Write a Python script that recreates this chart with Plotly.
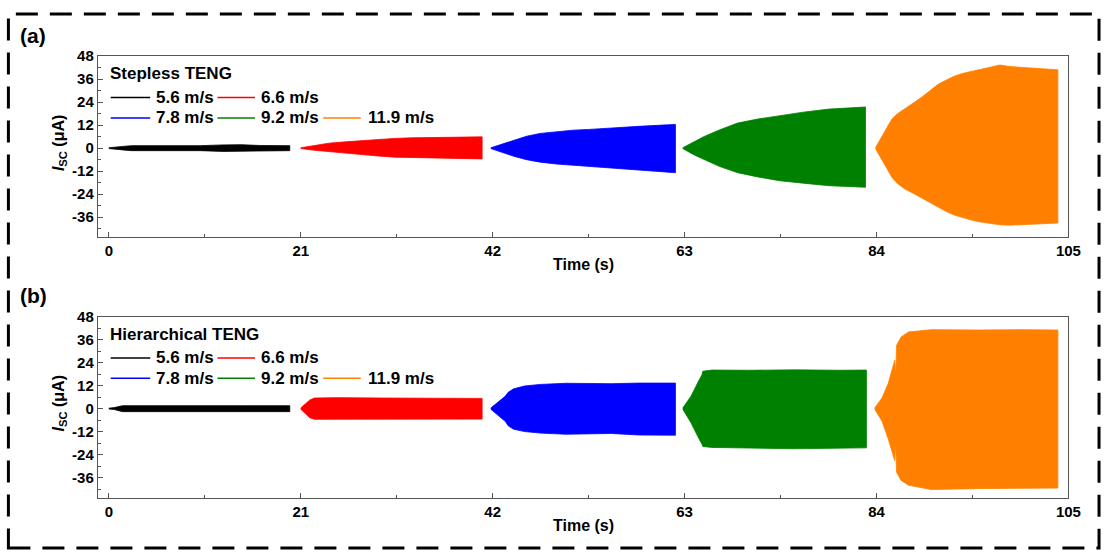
import plotly.graph_objects as go

# ---------------- data (envelopes) ----------------
speeds = ["5.6 m/s", "6.6 m/s", "7.8 m/s", "9.2 m/s", "11.9 m/s"]
colors = ["#000000", "#ff0000", "#0000ff", "#008000", "#ff8000"]
panel_titles = ["Stepless TENG", "Hierarchical TENG"]
panel_labels = ["(a)", "(b)"]

x_tickvals = [0, 21, 42, 63, 84, 105]
x_ticktext = ["0", "21", "42", "63", "84", "105"]
y_tickvals = [-36, -24, -12, 0, 12, 24, 36, 48]
y_ticktext = ["-36", "-24", "-12", "0", "12", "24", "36", "48"]

# Panel (a) - Stepless TENG
a_56_t = [0, 0.8, 1.5, 2.5, 6, 10, 12.5, 14.5, 16.5, 19.8]
a_56_up = [0.2, 0.4, 0.9, 1.3, 1.3, 1.3, 1.7, 1.8, 1.4, 1.3]
a_56_lo = [-0.2, -0.4, -0.9, -1.3, -1.3, -1.3, -1.7, -1.8, -1.4, -1.3]

a_66_t = [21, 22.5, 24.1, 25.9, 27.7, 29.5, 31.3, 33.1, 34.9, 38, 40.85]
a_66_up = [0.2, 1.4, 2.6, 3.3, 3.9, 4.6, 5.1, 5.4, 5.6, 5.8, 5.9]
a_66_lo = [-0.2, -1.1, -2.0, -2.7, -3.4, -4.1, -4.7, -4.9, -5.1, -5.4, -5.6]

a_78_t = [41.8, 42.8, 43.5, 44.3, 45.7, 47.2, 49, 50.8, 52.6, 54.4, 56.2, 58, 60, 62]
a_78_up = [0.2, 1.7, 3.0, 4.3, 6.2, 7.7, 8.7, 9.4, 9.8, 10.2, 10.8, 11.4, 11.9, 12.4]
a_78_lo = [-0.2, -1.7, -3.0, -4.2, -6.0, -7.3, -8.3, -9.0, -9.6, -10.2, -10.8, -11.4, -12.1, -12.8]

a_92_t = [62.8, 63.7, 64.4, 65.1, 66.8, 68.8, 71, 73.4, 76, 78.8, 81, 82.8]
a_92_up = [0.2, 2.6, 4.3, 6, 9.5, 13.1, 15.2, 17, 18.8, 20.4, 21.0, 21.5]
a_92_lo = [-0.2, -2.6, -4.3, -6, -9.5, -12.8, -15, -17, -18.3, -19.6, -20.0, -20.4]

a_119_t = [83.9, 84.6, 85.2, 85.7, 86.3, 87.1, 88.0, 88.9, 89.8, 90.7, 91.6, 92.5, 93.4,
           94.3, 95.2, 96.1, 97.5, 98.6, 99.7, 100.8, 101.9, 103.85]
a_119_up = [0.3, 6, 11, 15.3, 18, 20.4, 23.5, 26.4, 30, 33.2, 35.5, 37.5, 39,
            40, 41, 41.7, 43.4, 42.6, 42.2, 42.0, 41.7, 40.9]
a_119_lo = [-0.3, -6, -11, -15.3, -18.5, -21.3, -23.5, -25.5, -28, -30.6, -33, -34.9, -36.3,
            -37.4, -38.4, -39.1, -40, -40.2, -40, -39.8, -39.5, -39.1]

# Panel (b) - Hierarchical TENG
b_56_t = [0, 0.6, 1.5, 5, 10, 15, 19.8]
b_56_up = [0.2, 0.5, 1.5, 1.6, 1.5, 1.5, 1.5]
b_56_lo = [-0.2, -0.5, -1.6, -1.7, -1.6, -1.6, -1.6]

b_66_t = [21, 21.5, 22.0, 22.5, 25, 30, 35, 40.85]
b_66_up = [0.3, 2.5, 4.5, 5.5, 5.7, 5.5, 5.4, 5.3]
b_66_lo = [-0.3, -2.5, -4.8, -5.6, -5.8, -5.7, -5.6, -5.5]

b_78_t = [41.8, 42.6, 43.4, 43.7, 44.3, 45.5, 47.2, 50, 55, 58, 62]
b_78_up = [0.3, 3.5, 6.5, 8.5, 10.3, 11.8, 12.6, 13.2, 13.0, 13.3, 13.3]
b_78_lo = [-0.3, -3.5, -6.8, -9.0, -10.8, -12.0, -12.8, -13.4, -13.0, -13.8, -13.9]

b_92_t = [62.8, 63.7, 64.6, 64.9, 65.0, 66, 70, 75, 80, 82.9]
b_92_up = [0.3, 6.4, 15, 17.5, 19.5, 20.1, 20.0, 20.2, 20.0, 20.1]
b_92_lo = [-0.3, -7.4, -16, -18.5, -19.8, -20.3, -20.6, -21.0, -20.6, -20.5]

b_119_t = [83.8, 84.6, 85.3, 86.0, 86.1, 86.2, 86.7, 87.5, 90, 95, 100, 103.85]
b_119_up = [0.3, 5.5, 13.3, 25.3, 16, 33, 37.4, 40, 41.2, 41.0, 41.2, 41.0]
b_119_lo = [-0.3, -6.5, -16, -27.2, -17, -33.2, -37.5, -40, -42.3, -41.8, -41.5, -41.5]

panel_a = [(a_56_t, a_56_up, a_56_lo), (a_66_t, a_66_up, a_66_lo), (a_78_t, a_78_up, a_78_lo),
           (a_92_t, a_92_up, a_92_lo), (a_119_t, a_119_up, a_119_lo)]
panel_b = [(b_56_t, b_56_up, b_56_lo), (b_66_t, b_66_up, b_66_lo), (b_78_t, b_78_up, b_78_lo),
           (b_92_t, b_92_up, b_92_lo), (b_119_t, b_119_up, b_119_lo)]

# ---------------- layout helpers ----------------
W, H = 1115, 554
FONT = "Arial, 'Liberation Sans', Helvetica, sans-serif"
AXC = "#555555"


def px(x):
    return x / W


def py(y):
    return 1 - y / H


plot_left, plot_right = 99, 1081
plot_tops = [48, 312.7]
plot_h = 184

fig = go.Figure()

for p, series in enumerate([panel_a, panel_b]):
    xa = "x" if p == 0 else "x2"
    ya = "y" if p == 0 else "y2"
    for (t, up, lo), col in zip(series, colors):
        fig.add_trace(go.Scatter(
            x=list(t) + list(t)[::-1],
            y=list(up) + list(lo)[::-1],
            fill="toself", fillcolor=col, mode="lines",
            line=dict(color=col, width=0.8),
            xaxis=xa, yaxis=ya, showlegend=False, hoverinfo="skip"))

axis_common = dict(
    showline=True, linecolor=AXC, linewidth=1.2, mirror=True,
    ticks="inside", ticklen=5, tickwidth=1.2, tickcolor=AXC,
    showgrid=False, zeroline=False,
    tickfont=dict(family=FONT, size=15, color="black", weight="bold"),
)

layout_axes = {}
for p in range(2):
    top = plot_tops[p]
    bottom = top + plot_h
    xkey = "xaxis" if p == 0 else "xaxis2"
    ykey = "yaxis" if p == 0 else "yaxis2"
    layout_axes[xkey] = dict(
        axis_common, domain=[px(plot_left), px(plot_right)],
        anchor="y" if p == 0 else "y2",
        range=[-1.2, 105], tickmode="array", tickvals=x_tickvals, ticktext=x_ticktext,
        minor=dict(ticks="inside", ticklen=3, tickwidth=1, tickcolor=AXC, tickmode="linear", tick0=0, dtick=10.5),
    )
    layout_axes[ykey] = dict(
        axis_common, domain=[py(bottom), py(top)],
        anchor="x" if p == 0 else "x2",
        range=[-46.5, 48], tickmode="array", tickvals=y_tickvals, ticktext=y_ticktext,
        minor=dict(ticks="inside", ticklen=3, tickwidth=1, tickcolor=AXC, tickmode="linear", tick0=0, dtick=6),
    )

annotations = []
shapes = []

legend_items = [  # (row, line x0, line x1, text x)
    (0, 112, 152, 156),
    (0, 220, 258, 262),
    (1, 112, 152, 156),
    (1, 220, 258, 262),
    (1, 327, 365, 370),
]

for p in range(2):
    top = plot_tops[p]
    annotations.append(dict(x=px(18), y=py(top - 21), xref="paper", yref="paper",
                            text="<b>%s</b>" % panel_labels[p], showarrow=False,
                            xanchor="left", yanchor="middle",
                            font=dict(family=FONT, size=21, color="black")))
    annotations.append(dict(x=px(60), y=py(top + plot_h / 2 - 4), xref="paper", yref="paper",
                            text="<b><i>I</i><sub>SC</sub> (μA)</b>", showarrow=False, textangle=-90,
                            xanchor="center", yanchor="middle",
                            font=dict(family=FONT, size=16, color="black")))
    annotations.append(dict(x=px(590), y=py(top + plot_h + 28), xref="paper", yref="paper",
                            text="<b>Time (s)</b>", showarrow=False,
                            xanchor="center", yanchor="middle",
                            font=dict(family=FONT, size=16, color="black")))
    annotations.append(dict(x=px(109), y=py(top + 18), xref="paper", yref="paper",
                            text="<b>%s</b>" % panel_titles[p], showarrow=False,
                            xanchor="left", yanchor="middle",
                            font=dict(family=FONT, size=17, color="black")))
    for (row, lx0, lx1, tx), name, col in zip(legend_items, speeds, colors):
        yy = top + 42 + row * 20.7
        shapes.append(dict(type="line", xref="paper", yref="paper",
                           x0=px(lx0), x1=px(lx1), y0=py(yy), y1=py(yy),
                           line=dict(color=col, width=1.5)))
        annotations.append(dict(x=px(tx), y=py(yy), xref="paper", yref="paper",
                                text="<b>%s</b>" % name, showarrow=False,
                                xanchor="left", yanchor="middle",
                                font=dict(family=FONT, size=17, color="black")))

# dashed outer frame
shapes.append(dict(type="rect", xref="paper", yref="paper",
                   x0=px(8.5), x1=px(1112), y0=py(548), y1=py(5),
                   line=dict(color="black", width=3, dash="22px,12px")))

fig.update_layout(
    width=W, height=H,
    margin=dict(l=0, r=0, t=0, b=0),
    paper_bgcolor="white", plot_bgcolor="white",
    showlegend=False,
    annotations=annotations, shapes=shapes,
    **layout_axes,
)

fig.write_html(
    "out.html",
    config={"displayModeBar": False},
    post_script="document.body.style.margin='0';document.body.style.overflow='hidden';",
)
